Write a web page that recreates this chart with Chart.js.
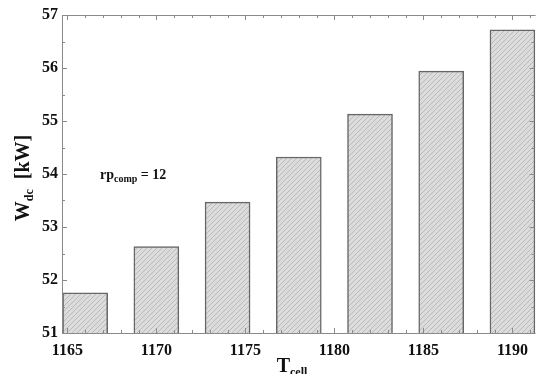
<!DOCTYPE html>
<html>
<head>
<meta charset="utf-8">
<script src="https://cdn.jsdelivr.net/npm/chart.js@4"></script>
<style>
  html, body { margin:0; padding:0; background:#fff; }
  #wrap { width:536px; height:374px; }
</style>
</head>
<body>
<div id="wrap"><canvas id="c" width="536" height="374"></canvas></div>
<script>
// data
const T_CELL = [1166, 1170, 1174, 1178, 1182, 1186, 1190];
const W_DC = [51.76, 52.63, 53.47, 54.32, 55.13, 55.94, 56.72];
const X_TICKS = [1165, 1170, 1175, 1180, 1185, 1190];
const Y_TICKS = [51, 52, 53, 54, 55, 56, 57];
const ANNOTATION = { main:"rp", sub:"comp", rest:" = 12" };

const SERIF = '"Liberation Serif", "DejaVu Serif", serif';
const INK = "#111";

function hatchPattern(){
  const c = document.createElement("canvas");
  c.width = 5; c.height = 5;
  const g = c.getContext("2d");
  g.fillStyle = "#dcdcdc";
  g.fillRect(0, 0, 5, 5);
  g.strokeStyle = "#bababa";
  g.lineWidth = 1;
  g.beginPath();
  // "/" direction lines
  g.moveTo(-1, 6); g.lineTo(6, -1);
  g.moveTo(-1, 1); g.lineTo(1, -1);
  g.moveTo(4, 6); g.lineTo(6, 4);
  g.stroke();
  return g.createPattern(c, "repeat");
}

// frame, inner ticks and titles
const framePlugin = {
  id: "frame",
  afterDatasetsDraw(chart){
    const { ctx, chartArea:a, scales:{ x, y } } = chart;
    ctx.save();
    ctx.strokeStyle = "#8a8a8a";
    ctx.lineWidth = 1;
    ctx.beginPath();
    ctx.moveTo(a.right, a.top + 0.5); ctx.lineTo(a.left + 0.5, a.top + 0.5);
    ctx.lineTo(a.left + 0.5, a.bottom + 0.5); ctx.lineTo(a.right, a.bottom + 0.5);
    ctx.stroke();

    ctx.beginPath();
    for(let v = Math.ceil(x.min); v <= x.max; v++){
      const px = Math.round(x.getPixelForValue(v)) + 0.5;
      const len = (v % 5 === 0) ? 5 : 3;
      ctx.moveTo(px, a.bottom); ctx.lineTo(px, a.bottom - len);
      ctx.moveTo(px, a.top); ctx.lineTo(px, a.top + len);
    }
    for(let v = y.min; v <= y.max; v += 0.5){
      const py = Math.round(y.getPixelForValue(v)) + 0.5;
      const len = (v % 1 === 0) ? 5 : 3;
      ctx.moveTo(a.left, py); ctx.lineTo(a.left + len, py);
      ctx.moveTo(a.right - 1, py); ctx.lineTo(a.right - 1 - len, py);
    }
    ctx.stroke();
    ctx.restore();
  },
  afterDraw(chart){
    const { ctx } = chart;
    ctx.save();
    ctx.fillStyle = INK;
    ctx.textBaseline = "alphabetic";

    // y title, rotated
    ctx.save();
    ctx.translate(29, 178);
    ctx.rotate(-Math.PI / 2);
    ctx.font = "bold 20px " + SERIF;
    const wW = ctx.measureText("W").width;
    ctx.font = "bold 12px " + SERIF;
    const wSub = ctx.measureText("dc").width;
    ctx.font = "bold 20px " + SERIF;
    const wRest = ctx.measureText("  [kW]").width;
    let sx = -(wW + wSub + wRest) / 2;
    ctx.fillText("W", sx, 0); sx += wW;
    ctx.font = "bold 12px " + SERIF;
    ctx.fillText("dc", sx, 4); sx += wSub;
    ctx.font = "bold 20px " + SERIF;
    ctx.fillText("  [kW]", sx, 0);
    ctx.restore();

    // x title
    ctx.font = "bold 20px " + SERIF;
    const tW = ctx.measureText("T").width;
    ctx.font = "bold 12px " + SERIF;
    const tSub = ctx.measureText("cell").width;
    let tx = 292 - (tW + tSub) / 2;
    ctx.font = "bold 20px " + SERIF;
    ctx.fillText("T", tx, 372); tx += tW;
    ctx.font = "bold 12px " + SERIF;
    ctx.fillText("cell", tx, 376);

    // annotation
    let ax = 100;
    ctx.font = "bold 14px " + SERIF;
    ctx.fillText(ANNOTATION.main, ax, 179); ax += ctx.measureText(ANNOTATION.main).width;
    ctx.font = "bold 10px " + SERIF;
    ctx.fillText(ANNOTATION.sub, ax, 182); ax += ctx.measureText(ANNOTATION.sub).width;
    ctx.font = "bold 14px " + SERIF;
    ctx.fillText(ANNOTATION.rest, ax, 179);

    ctx.restore();
  }
};

new Chart(document.getElementById("c").getContext("2d"), {
  type: "bar",
  data: {
    datasets: [{
      data: T_CELL.map((t, i) => ({ x: t, y: W_DC[i] })),
      backgroundColor: hatchPattern(),
      borderColor: "#676767",
      borderWidth: 1.5,
      borderSkipped: false,
      barThickness: 45
    }]
  },
  options: {
    responsive: false,
    animation: false,
    layout: { padding: { top: 15, right: 0, left: 0, bottom: 0 } },
    plugins: { legend: { display: false }, tooltip: { enabled: false } },
    scales: {
      x: {
        type: "linear",
        offset: false,
        min: 1164.7,
        max: 1191.3,
        afterBuildTicks(scale){ scale.ticks = X_TICKS.map(v => ({ value: v })); },
        afterFit(scale){ scale.height = 41; },
        grid: { display: false, drawTicks: false, offset: false },
        border: { display: false },
        ticks: {
          padding: 8,
          color: INK,
          maxRotation: 0,
          font: { family: SERIF, size: 16, weight: "bold" },
          callback: v => String(v)
        }
      },
      y: {
        min: 51,
        max: 57,
        afterBuildTicks(scale){ scale.ticks = Y_TICKS.map(v => ({ value: v })); },
        afterFit(scale){ scale.width = 62; },
        grid: { display: false, drawTicks: false },
        border: { display: false },
        ticks: {
          padding: 4,
          color: INK,
          font: { family: SERIF, size: 16, weight: "bold" },
          callback: v => String(v)
        }
      }
    }
  },
  plugins: [framePlugin]
});
</script>
</body>
</html>
